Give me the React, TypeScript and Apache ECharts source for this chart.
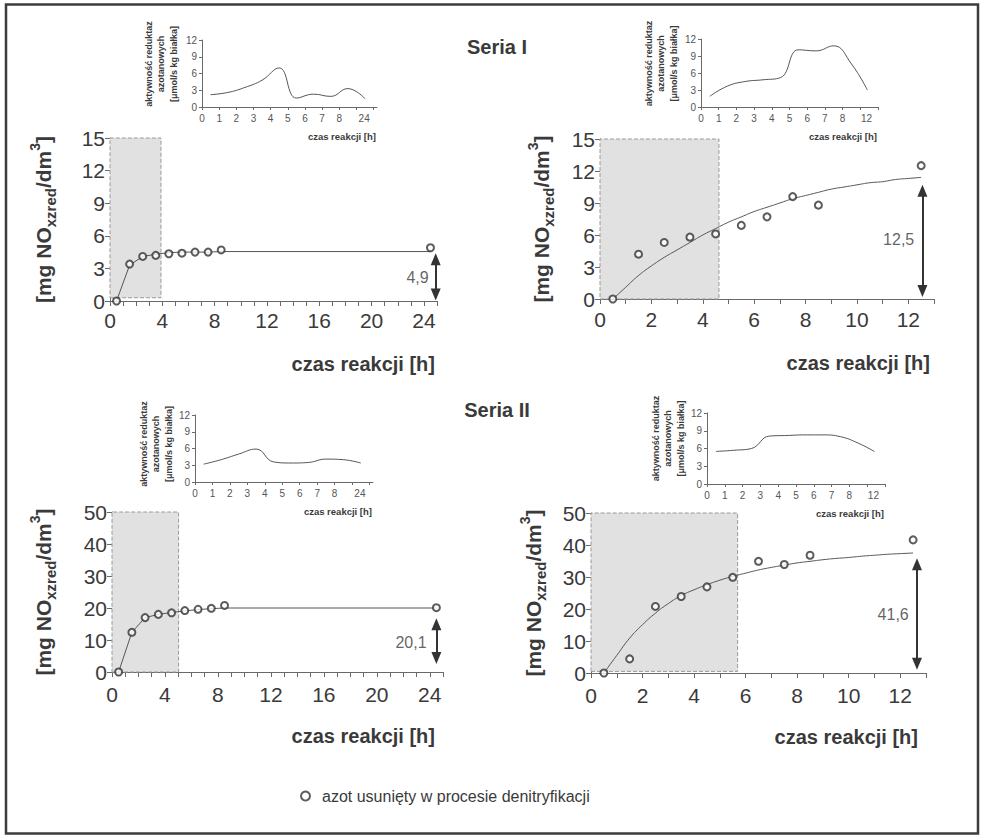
import React, { useEffect, useRef } from "react";
import * as echarts from "echarts";

const FONT = '"Liberation Sans", Arial, Helvetica, sans-serif';
const TEXT = "#3a3a3a";
const AXIS = "#6a6a6a";
const LEG = "azot usunięty w procesie denitryfikacji";

// ---- Seria I, 24 h (top-left) ----
const p1X = [0.5, 1.5, 2.5, 3.5, 4.5, 5.5, 6.5, 7.5, 8.5, 24.5];
const p1Y = [0, 3.4, 4.1, 4.2, 4.35, 4.4, 4.5, 4.5, 4.7, 4.9];
const p1Fit = [0, 3.3, 4.1, 4.3, 4.45, 4.5, 4.5, 4.5, 4.55, 4.55];

// ---- Seria I, 12 h (top-right) ----
const p2X = [0.5, 1.5, 2.5, 3.5, 4.5, 5.5, 6.5, 7.5, 8.5, 12.5];
const p2Y = [0, 4.2, 5.3, 5.8, 6.1, 6.9, 7.7, 9.6, 8.8, 12.5];
const fit12X = [0.5, 1, 1.5, 2, 2.5, 3, 3.5, 4, 4.5, 5, 5.5, 6, 6.5, 7, 7.5, 8, 8.5, 9, 9.5, 10, 10.5, 11, 11.5, 12, 12.5];
const p2Fit = [0, 1.1, 2.2, 3.1, 3.9, 4.6, 5.3, 6.0, 6.6, 7.2, 7.7, 8.2, 8.6, 9.0, 9.4, 9.7, 10.0, 10.3, 10.5, 10.7, 10.9, 11.0, 11.2, 11.3, 11.4];

// ---- Seria II, 24 h (bottom-left) ----
const p3X = [0.5, 1.5, 2.5, 3.5, 4.5, 5.5, 6.5, 7.5, 8.5, 24.5];
const p3Y = [0, 12.4, 17.0, 18.0, 18.5, 19.2, 19.6, 19.9, 20.8, 20.1];
const p3Fit = [0, 12.4, 17.0, 18.0, 18.6, 19.1, 19.5, 19.8, 20.0, 20.0];

// ---- Seria II, 12 h (bottom-right) ----
const p4X = [0.5, 1.5, 2.5, 3.5, 4.5, 5.5, 6.5, 7.5, 8.5, 12.5];
const p4Y = [0, 4.4, 20.8, 23.9, 26.9, 29.9, 34.9, 33.9, 36.8, 41.6];
const p4Fit = [0, 5.5, 10.9, 15.1, 18.7, 21.7, 24.2, 26.0, 27.6, 29.0, 30.2, 31.2, 32.2, 33.0, 33.7, 34.4, 34.9, 35.4, 35.8, 36.1, 36.5, 36.8, 37.1, 37.3, 37.5];

// ---- insets: enzyme activity ----
const in24X = [0.5, 1.5, 2.5, 3.5, 4.5, 5.5, 6.5, 7.5, 8.5, 9.5];
const in12X = [0.5, 1.5, 2.5, 3.5, 4.5, 5.5, 6.5, 7.5, 8.5, 9.4];
const in1Y = [2.2, 2.6, 3.5, 4.8, 7.0, 1.6, 2.3, 1.9, 3.3, 1.5];
const in2Y = [1.9, 3.7, 4.5, 4.8, 5.2, 10.1, 9.9, 10.8, 7.6, 3.0];
const in3Y = [3.2, 4.0, 5.0, 5.9, 3.6, 3.4, 3.5, 4.1, 4.0, 3.4];
const in4Y = [5.5, 5.7, 6.0, 8.1, 8.2, 8.3, 8.3, 8.0, 6.9, 5.5];
const in24Labels = ["0", "1", "2", "3", "4", "5", "6", "7", "8", "24"];
const in12Labels = ["0", "1", "2", "3", "4", "5", "6", "7", "8", "12"];
const inLabelPos24 = [0, 1, 2, 3, 4, 5, 6, 7, 8, 9.45];
const inLabelPos12 = [0, 1, 2, 3, 4, 5, 6, 7, 8, 9.35];

// arrows: [x, yFrom, yTo], labels: [x, y, text]
const arrows = [
  [24.9, 0.6, 3.85],
  [12.55, 0.76, 10.14],
  [24.5, 4.37, 14.93],
  [12.65, 2.9, 34.0],
];
const arrowLabels = [
  [24.4, 2.2, "4,9"],
  [12.25, 5.6, "12,5"],
  [23.8, 9.2, "20,1"],
  [12.35, 18.2, "41,6"],
];
const shades = [
  [0, 0.3, 3.9, 15],
  [0, 0, 4.63, 15],
  [0, 0, 5.03, 50],
  [0, 0.5, 5.69, 50],
];

const zip = (xs: number[], ys: number[]) => xs.map((x, i) => [x, ys[i]]);

const mainCfg = [
  { grid: { left: 110, top: 138, width: 327, height: 163 }, xMax: 25, step: 4, lmax: 24, yMax: 15, yInt: 3, gapY: 52, xGap: -2, xPad: 53, lm: 9 },
  { grid: { left: 600, top: 139, width: 334, height: 160 }, xMax: 13, step: 2, lmax: 12, yMax: 15, yInt: 3, gapY: 44, xGap: -4, xPad: 54, lm: 10 },
  { grid: { left: 112, top: 512, width: 331, height: 160 }, xMax: 25, step: 4, lmax: 24, yMax: 50, yInt: 10, gapY: 54, xGap: -8, xPad: 54, lm: 12 },
  { grid: { left: 591, top: 513, width: 335, height: 160 }, xMax: 13, step: 2, lmax: 12, yMax: 50, yInt: 10, gapY: 43, xGap: -8, xPad: 54, lm: 12 },
];

const insetCfg = [
  { grid: { left: 202, top: 40, width: 175, height: 67 }, xMax: 10.2, gapY: 22, padL: 19, pos: inLabelPos24, labels: in24Labels },
  { grid: { left: 701, top: 39, width: 177, height: 68 }, xMax: 10, gapY: 21, padL: 19, pos: inLabelPos12, labels: in12Labels },
  { grid: { left: 195, top: 415, width: 178, height: 67 }, xMax: 10.2, gapY: 17, padL: 9, pos: inLabelPos24, labels: in24Labels },
  { grid: { left: 707, top: 413, width: 178, height: 71 }, xMax: 10, gapY: 18, padL: 20, pos: inLabelPos12, labels: in12Labels },
];

function buildOption() {
  const grids: any[] = [];
  const xAxes: any[] = [];
  const yAxes: any[] = [];
  const series: any[] = [];

  const pts = [zip(p1X, p1Y), zip(p2X, p2Y), zip(p3X, p3Y), zip(p4X, p4Y)];
  const fits = [zip(p1X, p1Fit), zip(fit12X, p2Fit), zip(p3X, p3Fit), zip(fit12X, p4Fit)];

  mainCfg.forEach((c, i) => {
    grids.push(c.grid);
    xAxes.push({
      gridIndex: i,
      type: "value",
      min: 0,
      max: c.xMax,
      interval: 1,
      splitLine: { show: false },
      axisLine: { show: true, onZero: false, lineStyle: { color: AXIS, width: 1 } },
      axisTick: { show: true, length: 5, lineStyle: { color: AXIS } },
      axisLabel: {
        fontSize: 21,
        color: TEXT,
        fontFamily: FONT,
        margin: c.lm,
        showMaxLabel: true,
        formatter: (v: number) => (v % c.step === 0 && v <= c.lmax ? String(v) : ""),
      },
      name: "czas reakcji [h]",
      nameLocation: "end",
      nameGap: c.xGap,
      nameTextStyle: {
        fontSize: 20,
        fontWeight: "bold",
        color: TEXT,
        fontFamily: FONT,
        align: "right",
        verticalAlign: "top",
        padding: [c.xPad, 0, 0, 0],
      },
    });
    yAxes.push({
      gridIndex: i,
      type: "value",
      min: 0,
      max: c.yMax,
      interval: c.yInt,
      splitLine: { show: false },
      axisLine: { show: true, lineStyle: { color: AXIS, width: 1 } },
      axisTick: { show: true, length: 5, lineStyle: { color: AXIS } },
      axisLabel: { fontSize: 21, color: TEXT, fontFamily: FONT, margin: 5 },
      name: "{a|[mg NO}{b|xzred}{a|/dm}{c|3}{a|]}",
      nameLocation: "middle",
      nameRotate: 90,
      nameGap: c.gapY,
      nameTextStyle: {
        rich: {
          a: { fontSize: 21, fontWeight: "bold", color: TEXT, fontFamily: FONT, lineHeight: 30 },
          b: { fontSize: 15, fontWeight: "bold", color: TEXT, fontFamily: FONT, lineHeight: 15, verticalAlign: "bottom" },
          c: { fontSize: 14, fontWeight: "bold", color: TEXT, fontFamily: FONT, lineHeight: 14, verticalAlign: "top" },
        },
      },
    });
    const sh = shades[i];
    series.push({
      type: "line",
      xAxisIndex: i,
      yAxisIndex: i,
      data: fits[i],
      showSymbol: false,
      symbol: "none",
      smooth: i === 1 || i === 3,
      lineStyle: { color: "#555", width: 1 },
      z: 3,
      silent: true,
      markArea: {
        silent: true,
        itemStyle: { color: "#e1e1e1", borderColor: "#9a9a9a", borderWidth: 1, borderType: "dashed" },
        data: [[{ coord: [sh[0], sh[1]] }, { coord: [sh[2], sh[3]] }]],
      },
    });
    series.push({
      type: "scatter",
      name: LEG,
      xAxisIndex: i,
      yAxisIndex: i,
      data: pts[i],
      symbol: "circle",
      symbolSize: 7,
      itemStyle: { color: "#ffffff", borderColor: "#333", borderWidth: 2 },
      z: 5,
    });
    const a = arrows[i];
    const l = arrowLabels[i];
    series.push({
      type: "scatter",
      name: "arrow" + i,
      xAxisIndex: i,
      yAxisIndex: i,
      data: [[l[0], l[1]]],
      symbolSize: 1,
      itemStyle: { color: "rgba(0,0,0,0)" },
      silent: true,
      label: {
        show: true,
        position: "left",
        distance: 0,
        formatter: String(l[2]),
        fontSize: 16,
        color: TEXT,
        fontFamily: FONT,
      },
      markLine: {
        silent: true,
        symbol: ["triangle", "triangle"],
        symbolSize: [10, 12],
        lineStyle: { color: "#333", width: 2, type: "solid" },
        label: { show: false },
        data: [[{ coord: [a[0], a[1]] }, { coord: [a[0], a[2]] }]],
      },
    });
  });

  const inYs = [zip(in24X, in1Y), zip(in12X, in2Y), zip(in24X, in3Y), zip(in12X, in4Y)];
  insetCfg.forEach((c, j) => {
    const i = j + 4;
    grids.push(c.grid);
    const ticks: number[] = [];
    for (let t = 0; t <= Math.floor(c.xMax); t++) ticks.push(t);
    xAxes.push({
      gridIndex: i,
      type: "value",
      min: 0,
      max: c.xMax,
      interval: 1,
      splitLine: { show: false },
      axisLine: { show: true, lineStyle: { color: AXIS, width: 1 } },
      axisTick: { show: true, length: 3, lineStyle: { color: AXIS }, customValues: ticks },
      axisLabel: {
        fontSize: 10,
        color: "#555",
        fontFamily: FONT,
        margin: 6,
        customValues: c.pos,
        formatter: (v: number) => {
          const k = c.pos.indexOf(v);
          return k >= 0 ? c.labels[k] : "";
        },
      },
      name: "czas reakcji [h]",
      nameLocation: "end",
      nameGap: -1,
      nameTextStyle: {
        fontSize: 9.5,
        fontWeight: "bold",
        color: TEXT,
        fontFamily: FONT,
        align: "right",
        verticalAlign: "top",
        padding: [24, 0, 0, 0],
      },
    });
    yAxes.push({
      gridIndex: i,
      type: "value",
      min: 0,
      max: 12,
      interval: 3,
      splitLine: { show: false },
      axisLine: { show: true, lineStyle: { color: AXIS, width: 1 } },
      axisTick: { show: true, length: 3, lineStyle: { color: AXIS } },
      axisLabel: { fontSize: 10, color: "#555", fontFamily: FONT, margin: 5 },
      name: "aktywność reduktaz\nazotanowych\n[μmol/s kg białka]",
      nameLocation: "middle",
      nameRotate: 90,
      nameGap: c.gapY,
      nameTextStyle: {
        fontSize: 9,
        fontWeight: "bold",
        color: TEXT,
        fontFamily: FONT,
        lineHeight: 12.5,
        align: "center",
        padding: [0, 0, 0, c.padL],
      },
    });
    series.push({
      type: "line",
      xAxisIndex: i,
      yAxisIndex: i,
      data: inYs[j],
      showSymbol: false,
      symbol: "none",
      smooth: 0.45,
      lineStyle: { color: "#555", width: 1 },
      silent: true,
    });
  });

  return {
    animation: false,
    backgroundColor: "#ffffff",
    textStyle: { fontFamily: FONT },
    grid: grids,
    xAxis: xAxes,
    yAxis: yAxes,
    series,
    legend: {
      left: 295,
      top: 783,
      icon: "circle",
      itemWidth: 9,
      itemHeight: 9,
      selectedMode: false,
      textStyle: { fontSize: 16, color: TEXT, fontFamily: FONT, padding: [0, 0, 0, 7] },
      data: [{ name: LEG, itemStyle: { color: "#fff", borderColor: "#333", borderWidth: 2 } }],
    },
    graphic: [
      {
        type: "rect",
        z: -10,
        silent: true,
        shape: { x: 6, y: 4.5, width: 972, height: 829 },
        style: { fill: "#ffffff", stroke: "#3c3c3c", lineWidth: 2.5 },
      },
      {
        type: "text",
        x: 497,
        y: 47,
        silent: true,
        style: { text: "Seria I", fontSize: 20, fontWeight: "bold", fill: TEXT, fontFamily: FONT, align: "center", verticalAlign: "middle" },
      },
      {
        type: "text",
        x: 497,
        y: 410,
        silent: true,
        style: { text: "Seria II", fontSize: 20, fontWeight: "bold", fill: TEXT, fontFamily: FONT, align: "center", verticalAlign: "middle" },
      },
    ],
  };
}

export default function App() {
  const ref = useRef<HTMLDivElement>(null);
  useEffect(() => {
    if (!ref.current) return;
    const chart = echarts.init(ref.current, undefined, { renderer: "svg" });
    chart.setOption(buildOption() as any);
    return () => chart.dispose();
  }, []);
  return (
    <div
      ref={ref}
      style={{ position: "fixed", left: 0, top: 0, width: 983, height: 837, background: "#fff" }}
    />
  );
}
